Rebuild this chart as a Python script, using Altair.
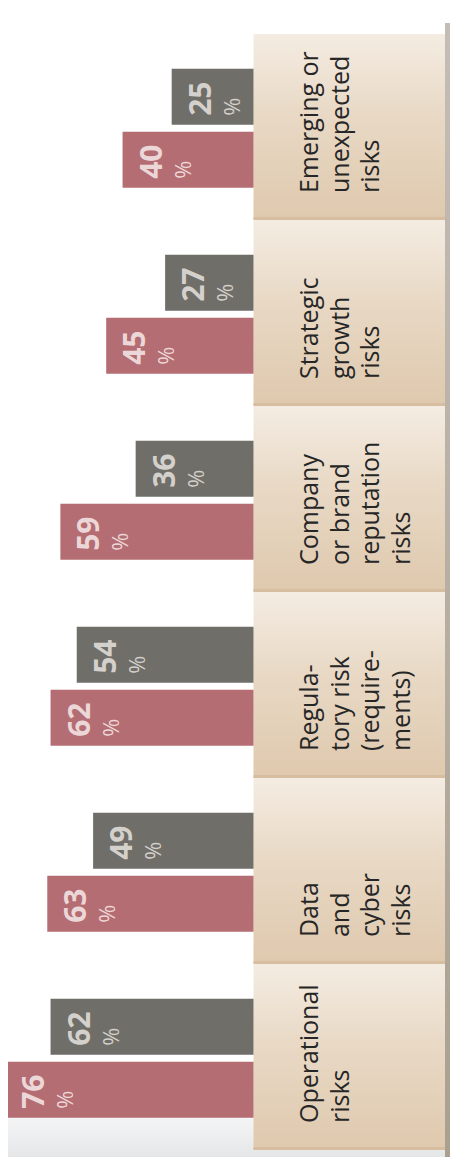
import altair as alt
import pandas as pd

# ---- data ----
categories = ["Emerging", "Strategic", "Reputation", "Regulatory", "Data", "Operational"]
labels = [
    "Emerging or\nunexpected\nrisks",
    "Strategic\ngrowth\nrisks",
    "Company\nor brand\nreputation\nrisks",
    "Regula-\ntory risk\n(require-\nments)",
    "Data\nand\ncyber\nrisks",
    "Operational\nrisks",
]
series = ["grey", "red"]
grey_values = [25, 27, 36, 54, 49, 62]
red_values = [40, 45, 59, 62, 63, 76]

# ---- tables ----
rows = []
for c, g, r in zip(categories, grey_values, red_values):
    rows.append({"cat": c, "series": "grey", "value": g})
    rows.append({"cat": c, "series": "red", "value": r})
bars_df = pd.DataFrame(rows)
cat_df = pd.DataFrame({"cat": categories, "label": labels})

W, H = 442, 1116
BOX_L, BOX_R = 245.5, 437
BAR_COLORS = ["#706e68", "#b46d72"]

yscale = alt.Scale(domain=categories, paddingInner=0, paddingOuter=0)
xscale = alt.Scale(domain=[0, 75], range=[BOX_L, 0])
yoff_scale = alt.Scale(domain=series, paddingInner=0.111, paddingOuter=0.532, align=0.52)


def Y(**kw):
    return alt.Y("cat:N", scale=yscale, axis=None, **kw)


one = alt.Data(values=[{"k": 1}])

# bottom page gradient
bottom_grad = alt.Chart(one).mark_rect(
    color={"gradient": "linear", "x1": 0, "y1": 0, "x2": 0, "y2": 1,
           "stops": [{"offset": 0, "color": "#ffffff"},
                     {"offset": 1, "color": "#e5e6e8"}]}
).encode(x=alt.value(0), x2=alt.value(W), y=alt.value(1056), y2=alt.value(1123))

# right edge strip
strip = alt.Chart(one).mark_rect(
    color={"gradient": "linear", "x1": 0, "y1": 0, "x2": 0, "y2": 1,
           "stops": [{"offset": 0, "color": "#c4bdb5"},
                     {"offset": 1, "color": "#ab9f90"}]}
).encode(x=alt.value(BOX_R), x2=alt.value(W), y=alt.value(-11), y2=alt.value(1123))

# beige label boxes
boxes = alt.Chart(cat_df).mark_rect(
    color={"gradient": "linear", "x1": 0, "y1": 0, "x2": 0, "y2": 1,
           "stops": [{"offset": 0, "color": "#f4ece2"},
                     {"offset": 0.45, "color": "#e8d8c4"},
                     {"offset": 1, "color": "#dfc9ae"}]}
).encode(y=Y(), x=alt.value(BOX_L), x2=alt.value(BOX_R))

box_edges = alt.Chart(cat_df).mark_rule(color="#d8bea1", strokeWidth=3).encode(
    y=Y(bandPosition=0.992), x=alt.value(BOX_L), x2=alt.value(BOX_R)
)

cat_labels = alt.Chart(cat_df).mark_text(
    angle=270, align="left", baseline="top", lineBreak="\n", lineHeight=30.5,
    font="Open Sans", fontSize=25, color="#262626"
).encode(y=Y(bandPosition=0.855), x=alt.value(290), text="label:N")

bars = alt.Chart(bars_df).mark_bar().encode(
    y=Y(),
    yOffset=alt.YOffset("series:N", scale=yoff_scale),
    x=alt.X("value:Q", scale=xscale, axis=None),
    x2=alt.datum(0),
    color=alt.Color("series:N", scale=alt.Scale(domain=series, range=BAR_COLORS), legend=None),
)

txt_color = alt.condition("datum.series === 'grey'", alt.value("#d4d1cc"), alt.value("#ecd7d8"))

numbers = alt.Chart(bars_df).mark_text(
    angle=270, align="left", baseline="alphabetic", font="Open Sans",
    fontSize=30, fontWeight="bold", dx=-19, dy=39
).encode(
    y=Y(),
    yOffset=alt.YOffset("series:N", scale=yoff_scale),
    x=alt.X("value:Q", scale=xscale, axis=None),
    text=alt.Text("value:Q", format="d"),
    color=txt_color,
)

pcts = alt.Chart(bars_df).mark_text(
    angle=270, align="left", baseline="alphabetic", font="Open Sans",
    fontSize=22, fontWeight="normal", dx=-19, dy=68, text="%"
).encode(
    y=Y(),
    yOffset=alt.YOffset("series:N", scale=yoff_scale),
    x=alt.X("value:Q", scale=xscale, axis=None),
    color=txt_color,
)

chart = alt.layer(
    bottom_grad, strip, boxes, box_edges, cat_labels, bars, numbers, pcts
).properties(
    width=W, height=H,
    padding={"left": 0, "top": 26, "right": 0, "bottom": 7},
    autosize=alt.AutoSizeParams(type="none"),
).configure_view(strokeWidth=0)

chart.save("out.html", embed_options={"renderer": "svg", "actions": False})
